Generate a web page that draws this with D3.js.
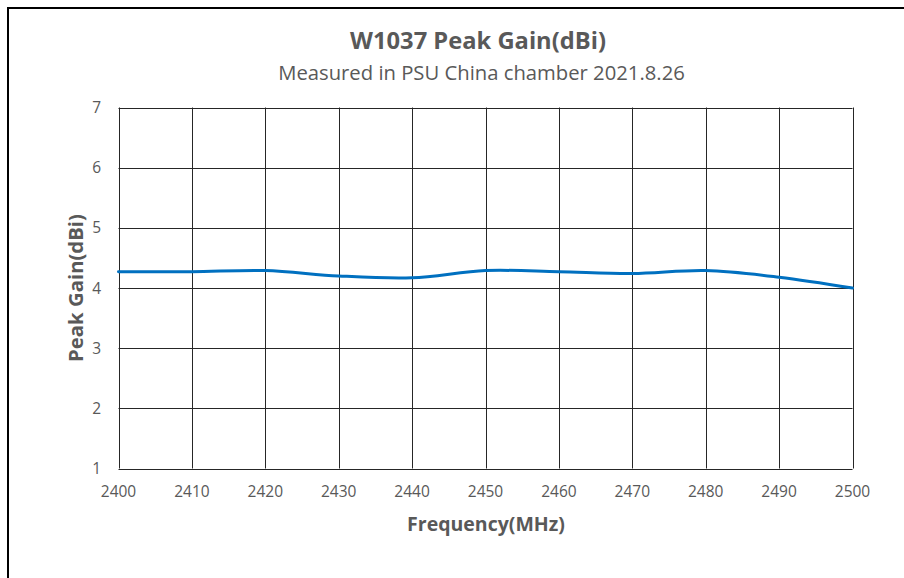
<!DOCTYPE html>
<html>
<head>
<meta charset="utf-8">
<script src="https://cdn.jsdelivr.net/npm/d3@7"></script>
<style>
  body { margin: 0; background: #fff; }
  svg { display: block; font-family: "Open Sans", sans-serif; }
</style>
</head>
<body>
<div id="chart"></div>
<script>
// data
const freqs = [2400, 2410, 2420, 2430, 2440, 2450, 2460, 2470, 2480, 2490, 2500];
const gain  = [4.27, 4.27, 4.29, 4.20, 4.17, 4.29, 4.27, 4.24, 4.29, 4.18, 4.00];
const xTicks = [2400, 2410, 2420, 2430, 2440, 2450, 2460, 2470, 2480, 2490, 2500];
const yTicks = [1, 2, 3, 4, 5, 6, 7];

const width = 904, height = 578;
const plot = { left: 118.5, right: 852.5, top: 107.5, bottom: 468.5 };
const tickSize = 15.5;

const svg = d3.select('#chart').append('svg')
    .attr('width', width)
    .attr('height', height);

// outer frame (left + top edge only, the rest is cut off)
svg.append('path')
    .attr('d', `M8,${height} L8,8 L${width},8`)
    .attr('fill', 'none')
    .attr('stroke', '#000')
    .attr('stroke-width', 2);

const x = d3.scaleLinear().domain([2400, 2500]).range([plot.left, plot.right]);
const y = d3.scaleLinear().domain([1, 7]).range([plot.bottom, plot.top]);

// grid
const grid = svg.append('g').attr('stroke', '#262626').attr('stroke-width', 1);
grid.selectAll('.vx').data(xTicks).enter().append('line')
    .attr('x1', d => Math.round(x(d)) + 0.5).attr('x2', d => Math.round(x(d)) + 0.5)
    .attr('y1', plot.top).attr('y2', plot.bottom);
grid.selectAll('.hy').data(yTicks).enter().append('line')
    .attr('x1', plot.left).attr('x2', plot.right)
    .attr('y1', d => Math.round(y(d)) + 0.5).attr('y2', d => Math.round(y(d)) + 0.5);

// tick labels
svg.append('g').selectAll('text').data(xTicks).enter().append('text')
    .attr('x', d => x(d))
    .attr('y', 497)
    .attr('text-anchor', 'middle')
    .attr('font-size', tickSize)
    .attr('fill', '#595959')
    .text(d => d);

svg.append('g').selectAll('text').data(yTicks).enter().append('text')
    .attr('x', 101)
    .attr('y', d => y(d) + 5.5)
    .attr('text-anchor', 'end')
    .attr('font-size', tickSize)
    .attr('fill', '#595959')
    .text(d => d);

// series
const line = d3.line()
    .x((d, i) => x(freqs[i]))
    .y(d => y(d))
    .curve(d3.curveCatmullRom.alpha(0.5));

svg.append('path')
    .datum(gain)
    .attr('d', line)
    .attr('fill', 'none')
    .attr('stroke', '#0070C0')
    .attr('stroke-width', 3)
    .attr('stroke-linecap', 'round');

// shrink/grow a label so it spans the same width as in the reference
function fitWidth(sel, target) {
    const w = sel.node().getComputedTextLength();
    const fs = parseFloat(sel.attr('font-size'));
    sel.attr('font-size', fs * target / w);
}

const title = svg.append('text')
    .attr('x', 478).attr('y', 49)
    .attr('text-anchor', 'middle')
    .attr('font-size', 20).attr('font-weight', 'bold')
    .attr('fill', '#595959')
    .text('W1037 Peak Gain(dBi)');
fitWidth(title, 256);

const subtitle = svg.append('text')
    .attr('x', 481.5).attr('y', 80)
    .attr('text-anchor', 'middle')
    .attr('font-size', 17)
    .attr('fill', '#595959')
    .text('Measured in PSU China chamber 2021.8.26');
fitWidth(subtitle, 407);

const xTitle = svg.append('text')
    .attr('x', 486).attr('y', 531)
    .attr('text-anchor', 'middle')
    .attr('font-size', 17).attr('font-weight', 'bold')
    .attr('fill', '#595959')
    .text('Frequency(MHz)');
fitWidth(xTitle, 158);

const yTitle = svg.append('text')
    .attr('transform', `translate(83,${(plot.top + plot.bottom) / 2}) rotate(-90)`)
    .attr('text-anchor', 'middle')
    .attr('font-size', 17).attr('font-weight', 'bold')
    .attr('fill', '#595959')
    .text('Peak Gain(dBi)');
fitWidth(yTitle, 148);
</script>
</body>
</html>
